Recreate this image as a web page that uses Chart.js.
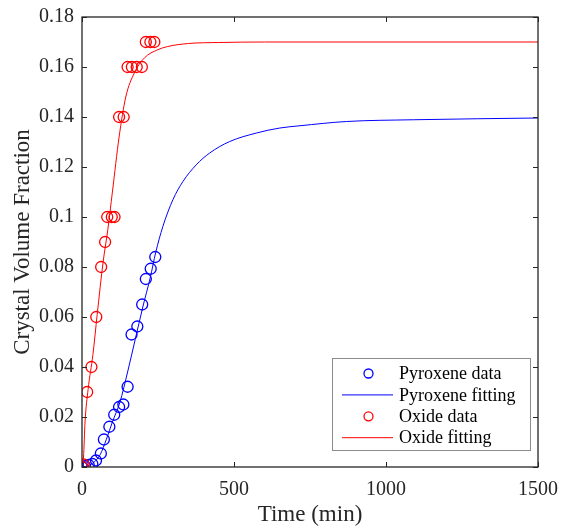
<!DOCTYPE html>
<html>
<head>
<meta charset="utf-8">
<script src="https://cdn.jsdelivr.net/npm/chart.js@4.4.0/dist/chart.umd.min.js"></script>
<style>
  html, body { margin: 0; padding: 0; background: #fff; }
  #wrap { width: 561px; height: 527px; }
</style>
</head>
<body>
<div id="wrap"><canvas id="chart" width="561" height="527"></canvas></div>
<script>
// measured data (time in min, crystal volume fraction)
const pyroxeneTime = [0, 10, 22, 34, 46, 62, 72, 90, 106, 122, 136, 150, 163, 182, 198, 210, 226, 241];
const pyroxeneFrac = [0, 0.0003, 0.0008, 0.0012, 0.0026, 0.0054, 0.011, 0.0161, 0.0209, 0.024, 0.025, 0.0321, 0.053, 0.0562, 0.065, 0.0752, 0.0793, 0.084];

const oxideTime = [0, 5, 17, 31, 47, 63, 76, 83, 98, 107, 122, 137, 150, 164, 180, 197, 210, 225, 238];
const oxideFrac = [0, 0.001, 0.03, 0.04, 0.06, 0.08, 0.09, 0.1, 0.1, 0.1, 0.14, 0.14, 0.16, 0.16, 0.16, 0.16, 0.17, 0.17, 0.17];

// fitted curves
const pyroxeneFitTime = [0, 20, 40, 60, 80, 100, 125, 150, 175, 200, 225, 242, 266, 299, 332, 376, 420, 486, 574, 651, 717, 870, 1090, 1300, 1500];
const pyroxeneFitFrac = [0, 0.0005, 0.002, 0.005, 0.011, 0.018, 0.026, 0.038, 0.051, 0.064, 0.076, 0.0856, 0.0962, 0.1069, 0.1142, 0.1209, 0.1256, 0.1302, 0.1336, 0.1356, 0.1365, 0.1382, 0.1389, 0.1393, 0.1396];

const oxideFitTime = [0, 5, 10, 20, 36, 50, 69, 85, 100, 122, 144, 172, 205, 249, 282, 350, 450, 600, 800, 1500];
const oxideFitFrac = [0, 0.004, 0.018, 0.031, 0.045, 0.061, 0.0816, 0.095, 0.11, 0.132, 0.148, 0.1576, 0.1636, 0.1669, 0.1682, 0.1694, 0.1698, 0.17, 0.17, 0.17];

// axis ticks
const xTicks = [0, 500, 1000, 1500];
const xTickLabels = ['0', '500', '1000', '1500'];
const yTicks = [0, 0.02, 0.04, 0.06, 0.08, 0.1, 0.12, 0.14, 0.16, 0.18];
const yTickLabels = ['0', '0.02', '0.04', '0.06', '0.08', '0.1', '0.12', '0.14', '0.16', '0.18'];

const seriesLabels = ['Pyroxene data', 'Pyroxene fitting', 'Oxide data', 'Oxide fitting'];

function toPoints(xs, ys) {
    return xs.map(function (x, i) { return {x: x, y: ys[i]}; });
}

const textColor = '#262626';
const serif = "'Liberation Serif', 'Times New Roman', serif";
Chart.defaults.font.family = serif;
Chart.defaults.color = textColor;

// box, inward ticks and legend like the matlab figure
const matlabFrame = {
    id: 'matlabFrame',
    afterDatasetsDraw(chart) {
        const ctx = chart.ctx;
        const a = chart.chartArea;
        const xs = chart.scales.x, ys = chart.scales.y;
        ctx.save();
        ctx.strokeStyle = textColor;
        ctx.lineWidth = 1.3;
        ctx.strokeRect(a.left, a.top, a.right - a.left, a.bottom - a.top);
        ctx.lineWidth = 1;
        ctx.beginPath();
        xTicks.forEach(function (v) {
            const p = Math.round(xs.getPixelForValue(v)) + 0.5;
            ctx.moveTo(p, a.bottom); ctx.lineTo(p, a.bottom - 5);
            ctx.moveTo(p, a.top); ctx.lineTo(p, a.top + 5);
        });
        yTicks.forEach(function (v) {
            const p = Math.round(ys.getPixelForValue(v)) + 0.5;
            ctx.moveTo(a.left, p); ctx.lineTo(a.left + 5, p);
            ctx.moveTo(a.right, p); ctx.lineTo(a.right - 5, p);
        });
        ctx.stroke();

        // legend
        const bx = 332, by = 358, bw = 198, bh = 92;
        ctx.fillStyle = '#fff';
        ctx.fillRect(bx, by, bw, bh);
        ctx.strokeStyle = '#8c8c8c';
        ctx.lineWidth = 1;
        ctx.strokeRect(bx + 0.5, by + 0.5, bw, bh);
        ctx.font = '18px ' + serif;
        ctx.textBaseline = 'middle';
        ctx.textAlign = 'left';
        chart.data.datasets.forEach(function (ds, i) {
            const y = by + 15.5 + i * 21.4;
            ctx.strokeStyle = ds.borderColor;
            if (ds.showLine) {
                ctx.lineWidth = 1;
                ctx.beginPath();
                ctx.moveTo(bx + 10, y); ctx.lineTo(bx + 61, y);
                ctx.stroke();
            } else {
                ctx.lineWidth = 1.3;
                ctx.beginPath();
                ctx.arc(bx + 36.5, y, 4.5, 0, Math.PI * 2);
                ctx.stroke();
            }
            ctx.fillStyle = '#000';
            ctx.fillText(ds.label, bx + 67, y + 1);
        });
        ctx.restore();
    }
};

const ctx = document.getElementById('chart');
const myChart = new Chart(ctx, {
    type: 'scatter',
    data: {
        datasets: [
            {
                label: seriesLabels[0],
                data: toPoints(pyroxeneTime, pyroxeneFrac),
                showLine: false,
                pointStyle: 'circle',
                pointRadius: 5.5,
                pointBorderWidth: 1.3,
                borderColor: '#0000ff',
                pointBorderColor: '#0000ff',
                backgroundColor: 'rgba(0,0,0,0)',
                order: 2
            },
            {
                label: seriesLabels[1],
                data: toPoints(pyroxeneFitTime, pyroxeneFitFrac),
                showLine: true,
                pointRadius: 0,
                borderWidth: 1,
                borderColor: '#0000ff',
                cubicInterpolationMode: 'monotone',
                order: 3
            },
            {
                label: seriesLabels[2],
                data: toPoints(oxideTime, oxideFrac),
                showLine: false,
                pointStyle: 'circle',
                pointRadius: 5.5,
                pointBorderWidth: 1.3,
                borderColor: '#ff0000',
                pointBorderColor: '#ff0000',
                backgroundColor: 'rgba(0,0,0,0)',
                order: 0
            },
            {
                label: seriesLabels[3],
                data: toPoints(oxideFitTime, oxideFitFrac),
                showLine: true,
                pointRadius: 0,
                borderWidth: 1,
                borderColor: '#ff0000',
                cubicInterpolationMode: 'monotone',
                order: 1
            }
        ]
    },
    options: {
        responsive: false,
        animation: false,
        events: [],
        layout: { padding: { left: 0, top: 17, right: 23, bottom: 0 } },
        plugins: {
            legend: { display: false },
            tooltip: { enabled: false }
        },
        scales: {
            x: {
                type: 'linear',
                min: 0, max: 1500,
                afterBuildTicks: function (axis) {
                    axis.ticks = xTicks.map(function (v) { return {value: v}; });
                },
                afterFit: function (axis) {
                    axis.height = 60;
                    axis.paddingLeft = 0;
                    axis.paddingRight = 0;
                },
                grid: { display: false, drawTicks: false },
                border: { display: false },
                ticks: {
                    color: textColor,
                    font: { family: serif, size: 20 },
                    padding: 11,
                    maxRotation: 0,
                    callback: function (v) {
                        const i = xTicks.indexOf(v);
                        return i >= 0 ? xTickLabels[i] : '';
                    }
                },
                title: {
                    display: true,
                    text: 'Time (min)',
                    color: textColor,
                    font: { family: serif, size: 23 },
                    padding: { top: 0, bottom: -2 }
                }
            },
            y: {
                type: 'linear',
                min: 0, max: 0.18,
                afterBuildTicks: function (axis) {
                    axis.ticks = yTicks.map(function (v) { return {value: v}; });
                },
                afterFit: function (axis) {
                    axis.width = 82;
                    axis.paddingTop = 0;
                    axis.paddingBottom = 0;
                },
                grid: { display: false, drawTicks: false },
                border: { display: false },
                ticks: {
                    color: textColor,
                    font: { family: serif, size: 20 },
                    padding: 8,
                    callback: function (v, idx) {
                        return yTickLabels[idx];
                    }
                },
                title: {
                    display: true,
                    text: 'Crystal Volume Fraction',
                    color: textColor,
                    font: { family: serif, size: 23 },
                    padding: { top: 9, bottom: 0 }
                }
            }
        }
    },
    plugins: [matlabFrame]
});
</script>
</body>
</html>
